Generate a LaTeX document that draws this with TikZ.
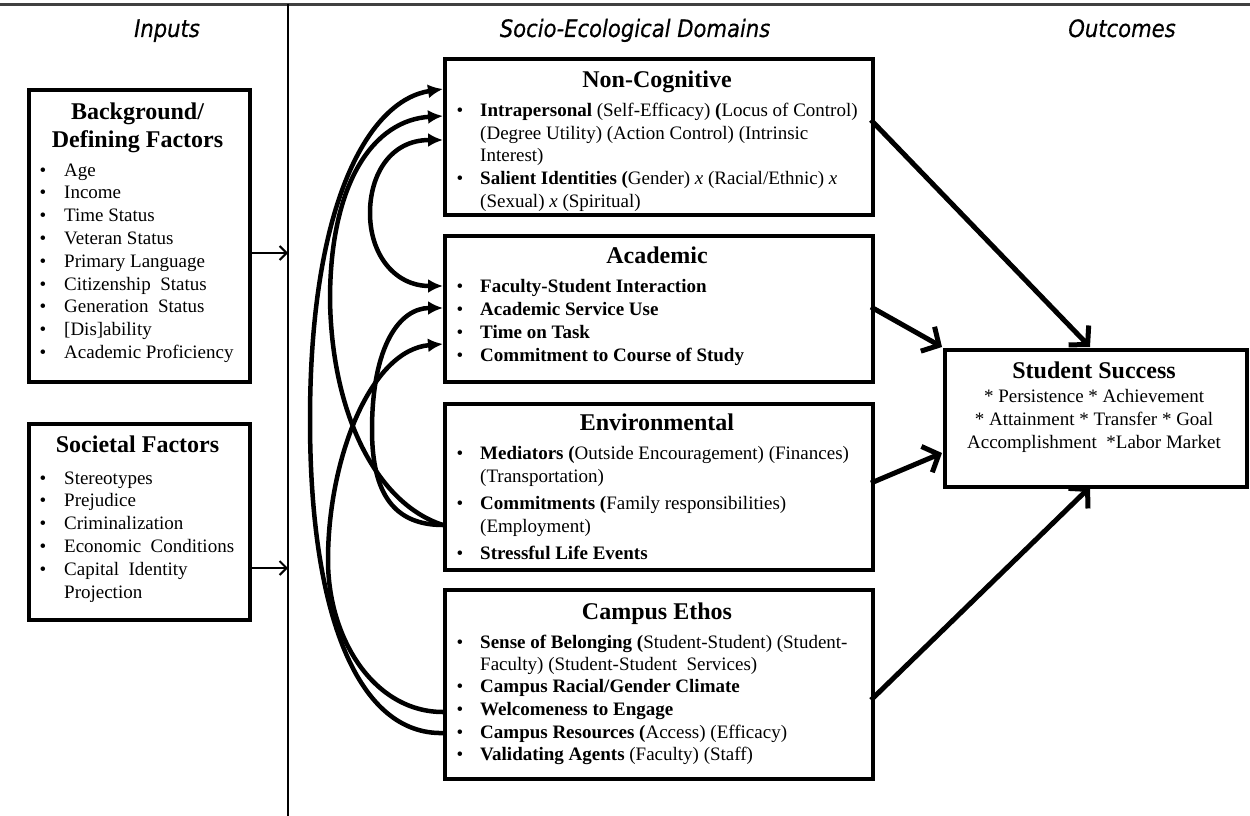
\documentclass[tikz,border=0pt]{standalone}
\usepackage{fontspec}
\setmainfont{Liberation Serif}
\newfontfamily\hdrfont[FakeStretch=0.88,FakeBold=0.4]{DejaVu Sans}
\usetikzlibrary{arrows.meta}
\newcounter{tl}
\newcommand\tline[3]{\stepcounter{tl}\node[txt,anchor=base west] (t\arabic{tl}) at (#1,#2) {#3};}
\newcommand\bline[4]{\stepcounter{tl}\node[txt,anchor=base] (b\arabic{tl}) at (#1,#3) {\textbullet};\tline{#2}{#3}{#4}}
\newcommand\ctrline[3]{\stepcounter{tl}\node[txt,anchor=base] (c\arabic{tl}) at (#1,#2) {#3};}
\begin{document}
\begin{tikzpicture}[x=1pt,y=-1pt,
  box/.style={draw, line width=4pt, inner sep=0pt, anchor=north west},
  txt/.style={inner sep=0pt, font=\fontsize{19}{23}\selectfont},
  ttl/.style={inner sep=0pt, font=\fontsize{24}{28}\selectfont\bfseries, anchor=base},
  hdr/.style={inner sep=0pt, font=\hdrfont\itshape\fontsize{24}{27}\selectfont, anchor=base},
  curve/.style={line width=4.5pt, -{Latex[length=15pt,width=14pt]}},
  outarr/.style={line width=5pt, -{Straight Barb[length=13pt,width=28pt]}},
  inarr/.style={line width=2pt, -{Straight Barb[length=7pt,width=14pt]}}]
\fill[white] (0,0) rectangle (1250,816);
\useasboundingbox (0,0) rectangle (1250,816);
% frame lines
\draw[line width=2.5pt, black!75] (0,4.5) -- (1250,4.5);
\draw[line width=1.5pt] (288,4) -- (288,816);
% headers
\node[hdr] (hin) at (167,37) {Inputs};
\node[hdr] (hdom) at (635,37) {Socio-Ecological Domains};
\node[hdr] (hout) at (1122,37) {Outcomes};
% boxes
\node[box, minimum width=221pt, minimum height=292pt] (bg) at (27,88) {};
\node[box, minimum width=221pt, minimum height=196pt] (soc) at (27,422) {};
\node[box, minimum width=428pt, minimum height=156pt] (nc) at (443,57) {};
\node[box, minimum width=428pt, minimum height=146pt] (ac) at (443,234) {};
\node[box, minimum width=428pt, minimum height=166pt] (env) at (443,402) {};
\node[box, minimum width=428pt, minimum height=189pt] (ce) at (443,588) {};
\node[box, minimum width=302pt, minimum height=137pt] (ss) at (943,348) {};
% titles
\node[ttl] (bgt1) at (137.5,119) {Background/};
\node[ttl] (bgt2) at (137.5,147) {Defining Factors};
\node[ttl] (soct) at (137.5,452) {Societal Factors};
\node[ttl] (nct) at (657,87) {Non-Cognitive};
\node[ttl] (act) at (657,263) {Academic};
\node[ttl] (envt) at (657,430) {Environmental};
\node[ttl] (cet) at (657,619) {Campus Ethos};
\node[ttl] (sst) at (1094,378) {Student Success};
% background items
\bline{43}{64}{176}{Age}
\bline{43}{64}{198.8}{Income}
\bline{43}{64}{221.6}{Time Status}
\bline{43}{64}{244.4}{Veteran Status}
\bline{43}{64}{267.2}{Primary Language}
\bline{43}{64}{290}{Citizenship\ \ Status}
\bline{43}{64}{312.8}{Generation\ \ Status}
\bline{43}{64}{335.6}{[Dis]ability}
\bline{43}{64}{358.4}{Academic Proficiency}
% societal items
\bline{43}{64}{484}{Stereotypes}
\bline{43}{64}{506.8}{Prejudice}
\bline{43}{64}{529.6}{Criminalization}
\bline{43}{64}{552.4}{Economic\ \ Conditions}
\bline{43}{64}{575.2}{Capital\ \ Identity}
\tline{64}{598}{Projection}
% non-cognitive
\bline{460}{480}{116}{\textbf{Intrapersonal} (Self-Efficacy) \textbf{(}Locus of Control)}
\tline{480}{139}{(Degree Utility) (Action Control) (Intrinsic}
\tline{480}{161}{Interest)}
\bline{460}{480}{184}{\textbf{Salient Identities (}Gender) \textit{x} (Racial/Ethnic) \textit{x}}
\tline{480}{207}{(Sexual) \textit{x} (Spiritual)}
% academic
\bline{460}{480}{292}{\textbf{Faculty-Student Interaction}}
\bline{460}{480}{315}{\textbf{Academic Service Use}}
\bline{460}{480}{338}{\textbf{Time on Task}}
\bline{460}{480}{361}{\textbf{Commitment to Course of Study}}
% environmental
\bline{460}{480}{459}{\textbf{Mediators (}Outside Encouragement) (Finances)}
\tline{480}{482}{(Transportation)}
\bline{460}{480}{509}{\textbf{Commitments (}Family responsibilities)}
\tline{480}{532}{(Employment)}
\bline{460}{480}{559}{\textbf{Stressful Life Events}}
% campus ethos
\bline{460}{480}{648}{\textbf{Sense of Belonging (}Student-Student) (Student-}
\tline{480}{670}{Faculty) (Student-Student\ \ Services)}
\bline{460}{480}{692}{\textbf{Campus Racial/Gender Climate}}
\bline{460}{480}{715}{\textbf{Welcomeness to Engage}}
\bline{460}{480}{738}{\textbf{Campus Resources (}Access) (Efficacy)}
\bline{460}{480}{760}{\textbf{Validating Agents} (Faculty) (Staff)}
% student success
\ctrline{1094}{402}{* Persistence * Achievement}
\ctrline{1094}{425}{* Attainment * Transfer * Goal}
\ctrline{1094}{448}{Accomplishment\ \ *Labor Market}
% input arrows
\coordinate (bgout) at (248,253);
\coordinate (vl1) at (288,253);
\coordinate (socout) at (248,568);
\coordinate (vl2) at (288,568);
\draw[inarr] (bgout) -- (vl1);
\draw[inarr] (socout) -- (vl2);
% curved connectors
\coordinate (nc1) at (443,89);
\coordinate (nc2) at (443,116);
\coordinate (nc3) at (443,140);
\coordinate (ac1) at (443,286);
\coordinate (ac2) at (443,308);
\coordinate (ac3) at (443,344);
\coordinate (env1) at (443,525);
\coordinate (ce1) at (443,712);
\coordinate (ce2) at (443,733);
\draw[curve] (ce2) .. controls (360,735) and (310,620) .. (310,420) .. controls (310,200) and (370,100) .. (nc1);
\draw[curve] (ce1) .. controls (375,712) and (328,640) .. (328,560) .. controls (328,460) and (370,350) .. (ac3);
\draw[curve] (env1) .. controls (380,505) and (332,420) .. (330,300) .. controls (330,180) and (375,120) .. (nc2);
\draw[curve] (env1) .. controls (395,525) and (372,495) .. (372,430) .. controls (372,345) and (400,308) .. (ac2);
\draw[curve, {Latex[length=15pt,width=14pt]}-{Latex[length=15pt,width=14pt]}] (nc3) .. controls (390,140) and (370,175) .. (370,213) .. controls (370,255) and (395,286) .. (ac1);
% outcome arrows
\coordinate (ncout) at (871,120);
\coordinate (ss1) at (1090,347);
\coordinate (acout) at (871,307);
\coordinate (ss2) at (942,347);
\coordinate (envout) at (871,483);
\coordinate (ss3) at (942,453);
\coordinate (ceout) at (871,700);
\coordinate (ss4) at (1090,487);
\draw[outarr] (ncout) -- (ss1);
\draw[outarr] (acout) -- (ss2);
\draw[outarr] (envout) -- (ss3);
\draw[outarr] (ceout) -- (ss4);
\end{tikzpicture}
\end{document}
